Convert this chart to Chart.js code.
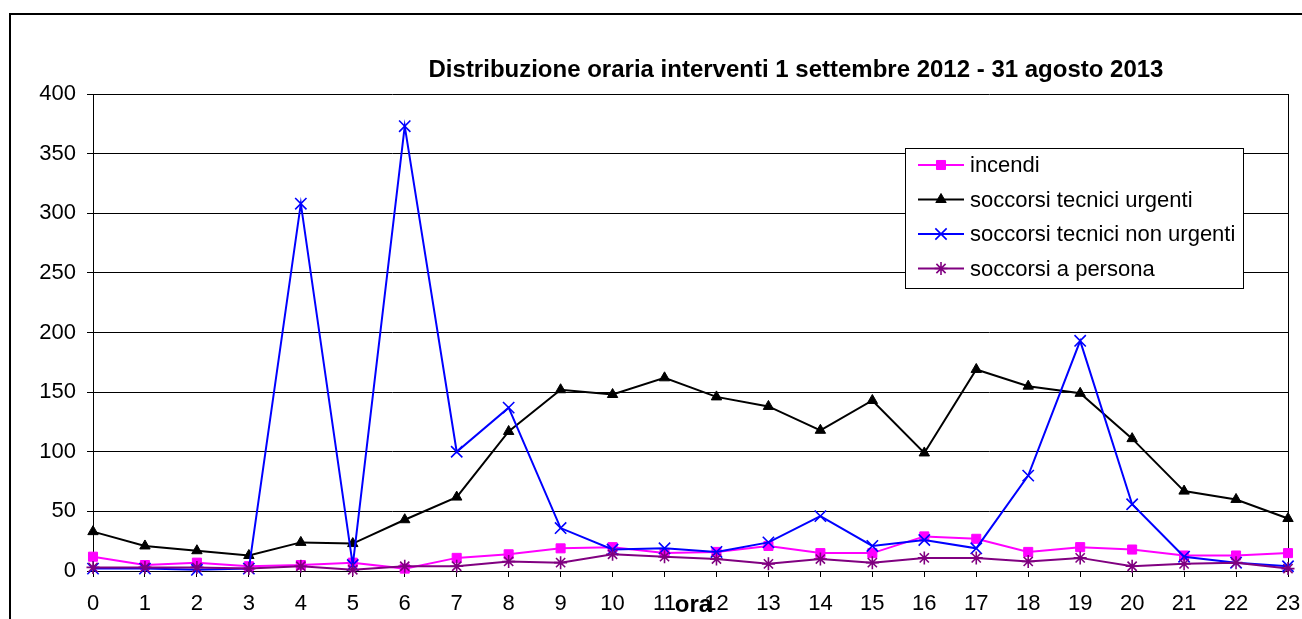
<!DOCTYPE html>
<html>
<head>
<meta charset="utf-8">
<title>Distribuzione oraria interventi</title>
<script src="https://cdn.jsdelivr.net/npm/chart.js@4/dist/chart.umd.min.js"></script>
<style>
  html, body { margin: 0; padding: 0; background: #fff; }
  #wrap { width: 1302px; height: 619px; }
</style>
</head>
<body>
<div id="wrap"><canvas id="chart" width="1302" height="619"></canvas></div>
<script>
// hourly data
const hours = ['0','1','2','3','4','5','6','7','8','9','10','11','12','13','14','15','16','17','18','19','20','21','22','23'];
const incendi = [12, 5, 7, 4, 5, 7, 2, 11, 14, 19, 20, 15, 16, 21, 15, 15, 29, 27, 16, 20, 18, 13, 13, 15];
const urgenti = [33, 21, 17, 13, 24, 23, 43, 62, 117, 152, 148, 162, 146, 138, 118, 143, 99, 169, 155, 149, 111, 67, 60, 44];
const nonUrgenti = [2, 2, 1, 2, 308, 5, 373, 100, 137, 36, 18, 19, 16, 24, 46, 21, 26, 19, 80, 193, 56, 12, 7, 4];
const persona = [3, 3, 3, 2, 4, 1, 4, 4, 8, 7, 14, 12, 10, 6, 10, 7, 11, 11, 8, 11, 4, 6, 7, 2];
const yTicks = [0, 50, 100, 150, 200, 250, 300, 350, 400];

const titleText = 'Distribuzione oraria interventi 1 settembre 2012 - 31 agosto 2013';
const axisTitle = 'ora';
const FONT = '"Liberation Sans", Arial, sans-serif';

function makeSeries(label, data, color, style, radius, order) {
  return {
    label: label,
    data: data,
    borderColor: color,
    backgroundColor: color,
    borderWidth: 2,
    pointStyle: style,
    pointRadius: radius,
    pointHoverRadius: radius,
    pointBorderWidth: (style === 'rect' || style === 'triangle') ? 1 : 1.6,
    pointBackgroundColor: color,
    pointBorderColor: color,
    tension: 0,
    clip: false,
    order: order
  };
}

// frame, title, axis label and floating legend
const decorations = {
  id: 'decorations',
  beforeDraw(chart) {
    const ctx = chart.ctx;
    ctx.save();
    ctx.fillStyle = '#fff';
    ctx.fillRect(0, 0, chart.width, chart.height);
    ctx.strokeStyle = '#000';
    ctx.lineWidth = 2;
    ctx.strokeRect(10, 14, chart.width + 10, chart.height + 10);
    ctx.restore();
  },
  beforeDatasetsDraw(chart) {
    const ctx = chart.ctx;
    const a = chart.chartArea;
    ctx.save();
    ctx.strokeStyle = '#000';
    ctx.lineWidth = 1;
    ctx.beginPath();
    ctx.moveTo(Math.round(a.right) + 0.5, a.top);
    ctx.lineTo(Math.round(a.right) + 0.5, a.bottom);
    ctx.stroke();
    ctx.restore();
  },
  afterDraw(chart) {
    const ctx = chart.ctx;
    const a = chart.chartArea;
    ctx.save();
    // title
    ctx.fillStyle = '#000';
    ctx.font = 'bold 24px ' + FONT;
    ctx.textAlign = 'center';
    ctx.textBaseline = 'alphabetic';
    ctx.fillText(titleText, 796, 77);
    // axis title, overlapping the tick labels as in the original
    ctx.fillText(axisTitle, (a.left + a.right) / 2 + 3, 612);

    // legend box
    const bx = 905, by = 148, bw = 338, bh = 140;
    ctx.fillStyle = '#fff';
    ctx.fillRect(bx, by, bw, bh);
    ctx.strokeStyle = '#000';
    ctx.lineWidth = 1;
    ctx.strokeRect(bx + 0.5, by + 0.5, bw, bh);
    ctx.font = '22px ' + FONT;
    ctx.textAlign = 'left';
    ctx.textBaseline = 'middle';
    chart.data.datasets.forEach((ds, i) => {
      const y = by + 17 + i * 34.5;
      ctx.strokeStyle = ds.borderColor;
      ctx.lineWidth = ds.borderWidth;
      ctx.beginPath();
      ctx.moveTo(918, y);
      ctx.lineTo(964, y);
      ctx.stroke();
      ctx.fillStyle = ds.pointBackgroundColor;
      ctx.strokeStyle = ds.pointBorderColor;
      ctx.lineWidth = ds.pointBorderWidth;
      Chart.helpers.drawPoint(ctx, {
        pointStyle: ds.pointStyle,
        radius: ds.pointRadius,
        rotation: 0,
        borderWidth: ds.pointBorderWidth
      }, 941, y);
      ctx.fillStyle = '#000';
      ctx.fillText(ds.label, 970, y + 1);
    });
    ctx.restore();
  }
};

new Chart(document.getElementById('chart'), {
  type: 'line',
  data: {
    labels: hours,
    datasets: [
      makeSeries('incendi', incendi, '#FF00FF', 'rect', 6.4, 3),
      makeSeries('soccorsi tecnici urgenti', urgenti, '#000000', 'triangle', 6, 2),
      makeSeries('soccorsi tecnici non urgenti', nonUrgenti, '#0000FF', 'crossRot', 8, 1),
      makeSeries('soccorsi a persona', persona, '#800080', 'star', 6.5, 0)
    ]
  },
  options: {
    responsive: false,
    animation: false,
    layout: { padding: { top: 94, right: 14, left: 0, bottom: 0 } },
    plugins: {
      legend: { display: false },
      title: { display: false },
      tooltip: { enabled: false }
    },
    scales: {
      x: {
        type: 'category',
        offset: false,
        afterFit: (s) => { s.height = 48; s.paddingLeft = 0; s.paddingRight = 0; },
        grid: { drawOnChartArea: false, drawTicks: true, tickLength: 6, color: '#000', lineWidth: 1 },
        border: { display: true, color: '#000', width: 1 },
        ticks: { color: '#000', font: { family: FONT, size: 22 }, padding: 14, maxRotation: 0, autoSkip: false }
      },
      y: {
        min: 0,
        max: 400,
        afterFit: (s) => { s.width = 93; s.paddingTop = 0; s.paddingBottom = 0; },
        afterBuildTicks: (s) => { s.ticks = yTicks.map(v => ({ value: v })); },
        grid: { color: '#000', lineWidth: 1, tickLength: 6, drawTicks: true },
        border: { display: true, color: '#000', width: 1 },
        ticks: { color: '#000', font: { family: FONT, size: 22 }, padding: 11 }
      }
    }
  },
  plugins: [decorations]
});
</script>
</body>
</html>
